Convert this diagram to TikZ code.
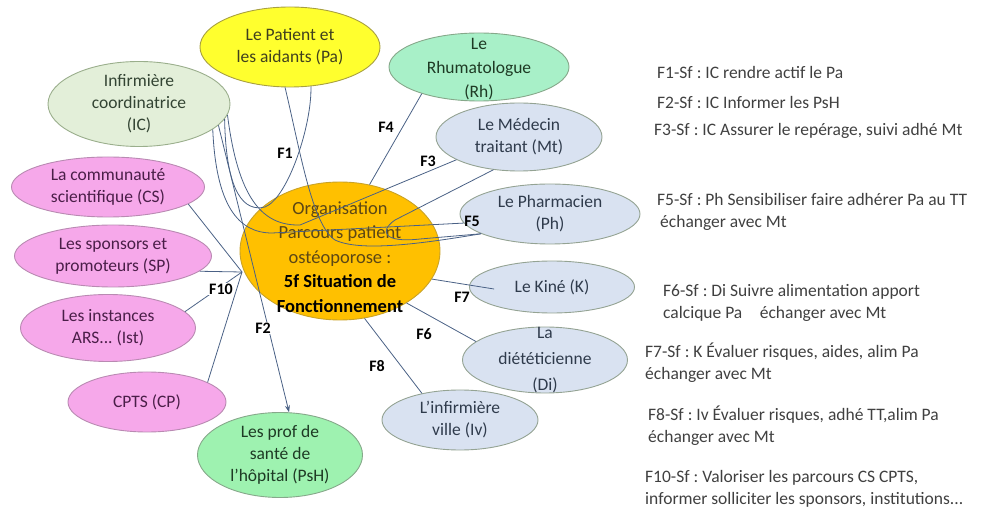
\documentclass[tikz,border=0pt]{standalone}
\usepackage{fontspec}
\setmainfont{Carlito}
\usepackage{xcolor}
\usepackage{tikz}
\usetikzlibrary{arrows.meta,shapes.geometric}
\frenchspacing

\definecolor{lnk}{HTML}{4A6185}
\definecolor{paF}{HTML}{FFFF2E}\definecolor{paD}{HTML}{A8A040}\definecolor{paT}{HTML}{40401E}
\definecolor{icF}{HTML}{E3EFD9}\definecolor{icD}{HTML}{9AAE8C}\definecolor{icT}{HTML}{334433}
\definecolor{pkF}{HTML}{F6A8EA}\definecolor{pkD}{HTML}{B98AB2}\definecolor{pkT}{HTML}{4A1E48}
\definecolor{grF}{HTML}{9EF2B0}\definecolor{rhF}{HTML}{A8F0C8}\definecolor{grD}{HTML}{86A88A}\definecolor{grT}{HTML}{1E3A24}
\definecolor{blF}{HTML}{D9E2F1}\definecolor{blD}{HTML}{94A393}\definecolor{blT}{HTML}{2F3B4C}
\definecolor{orF}{HTML}{FFC000}\definecolor{orD}{HTML}{C9A227}\definecolor{orT}{HTML}{5C4715}

\begin{document}
\begin{tikzpicture}[
  x=1pt, y=-1pt, >={Stealth[length=7pt,width=5pt]},
  bub/.style={ellipse, line width=0.9pt, inner sep=0pt},
  yel/.style={bub, fill=paF, draw=paD},
  sage/.style={bub, fill=icF, draw=icD},
  pink/.style={bub, fill=pkF, draw=pkD},
  mint/.style={bub, fill=grF, draw=grD},
  blue/.style={bub, fill=blF, draw=blD},
  txt/.style={align=center, font=\fontsize{17.5}{22}\selectfont},
  lnk/.style={draw=lnk, line width=0.8pt},
  flab/.style={font=\bfseries\fontsize{16}{18}\selectfont, inner sep=1pt},
  note/.style={anchor=west, align=left, text=black!75, font=\fontsize{17.5}{22}\selectfont, inner sep=0pt}
]
\useasboundingbox (0,0) rectangle (986,529);
% actors round the centre
\node[yel, minimum width=180pt, minimum height=80pt, label={[txt, text=paT]center:Le Patient et\\les aidants (Pa)}] (pa) at (290,47) {};
\node[sage, minimum width=182pt, minimum height=85pt, label={[txt, text=icT]center:Infirmière\\coordinatrice\\(IC)}] (ic) at (139,104) {};
\node[pink, minimum width=193pt, minimum height=60pt, label={[txt, text=pkT]center:La communauté\\scientifique (CS)}] (cs) at (108,187) {};
\node[pink, minimum width=197pt, minimum height=62pt, label={[txt, text=pkT]center:Les sponsors et\\promoteurs (SP)}] (sp) at (113,256) {};
\node[pink, minimum width=175pt, minimum height=67pt, label={[txt, text=pkT]center:Les instances\\ARS... (Ist)}] (ist) at (108,328) {};
\node[pink, minimum width=158pt, minimum height=60pt, label={[txt, text=pkT]center:CPTS (CP)}] (cp) at (147,402) {};
\node[mint, minimum width=165pt, minimum height=85pt, label={[txt, text=grT]center:Les prof de\\santé de\\l'hôpital (PsH)}] (psh) at (280,455) {};
\node[blue, minimum width=166pt, minimum height=68pt, label={[txt, text=blT]center:Le Médecin\\traitant (Mt)}] (mt) at (519,137) {};
\node[mint, fill=rhF, minimum width=180pt, minimum height=68pt, label={[txt, text=grT, yshift=-2pt, font=\fontsize{17.5}{24}\selectfont]center:Le\\Rhumatologue\\(Rh)}] (rh) at (479,67) {};
\node[blue, minimum width=180pt, minimum height=60pt, label={[txt, text=blT]center:Le Pharmacien\\(Ph)}] (ph) at (550,214) {};
\node[blue, minimum width=165pt, minimum height=52pt, label={[txt, text=blT]center:Le Kiné (K)}] (k) at (552,287) {};
\node[blue, minimum width=156pt, minimum height=60pt, label={[txt, text=blT]center:L'infirmière\\ville (Iv)}] (iv) at (460,420) {};
\node[blue, minimum width=165pt, minimum height=66pt, label={[txt, text=blT, font=\fontsize{17.5}{26}\selectfont]center:La\\diététicienne\\(Di)}] (di) at (545,360) {};
% centre
\node[bub, fill=orF, draw=orD, minimum width=200pt, minimum height=138pt,
      label={[align=center, yshift=-6pt, font=\fontsize{18.5}{24.5}\selectfont]center:{\color{orT}Organisation}\\{\color{orT}Parcours patient}\\{\color{orT}ostéoporose :}\\\textbf{5f Situation de}\\\textbf{Fonctionnement}}] (ctr) at (340,251) {};
\coordinate (j10) at (242,272);
% connectors
\draw[lnk] (ic.-10) .. controls (226,195) and (245,212) .. (265,207) .. controls (288,198) and (312,125) .. (pa.-62);
\draw[lnk, ->] (ic.-15) -- (psh.78);
\draw[lnk] (ic.-7) .. controls (238,198) and (262,226) .. (300,225) -- (mt.200);
\draw[lnk] (ic.-19) .. controls (216,205) and (238,233) .. (272,233) -- (ph.186);
\draw[lnk] (pa.-97) .. controls (300,150) and (312,225) .. (335,240) .. controls (360,252) and (420,244) .. (ph.196);
\draw[lnk] (mt.232) -- (395,220) .. controls (378,232) and (385,243) .. (420,239) -- (ph.196);
\draw[lnk] (ctr.66) -- (rh.205);
\draw[lnk] (ctr.-17) -- ([xshift=25pt,yshift=-2pt]k.west);
\draw[lnk] (ctr.-38) -- (di.165);
\draw[lnk] (ctr.-70) -- (iv.145);
\draw[lnk] (cs.-12) -- (j10);
\draw[lnk] (sp.-10) -- (j10);
\draw[lnk] (ist.12) -- (j10);
\draw[lnk] (cp.18) -- (j10);
% flow labels
\node[flab] (lf1) at (285,153) {F1};
\node[flab, fill=white] (lf2) at (263,328) {F2};
\node[flab] (lf3) at (428,161) {F3};
\node[flab] (lf4) at (386,127) {F4};
\node[flab] (lf5) at (472,221) {F5};
\node[flab] (lf6) at (424,334) {F6};
\node[flab] (lf7) at (462,297) {F7};
\node[flab] (lf8) at (377,366) {F8};
\node[flab, fill=white] (lf10) at (221,289) {F10};
% legend
\node[note] (n1) at (657,72) {F1-Sf : IC rendre actif le Pa};
\node[note] (n2) at (657,102) {F2-Sf : IC Informer les PsH};
\node[note] (n3) at (654,131) {F3-Sf : IC Assurer le repérage, suivi adhé Mt};
\node[note] (n5) at (657,211.5) {F5-Sf : Ph Sensibiliser faire adhérer Pa au TT\\\hspace{3pt}échanger avec Mt};
\node[note] (n6) at (663,302.5) {F6-Sf : Di Suivre alimentation apport\\calcique Pa\quad échanger avec Mt};
\node[note] (n7) at (645,363) {F7-Sf : K Évaluer risques, aides, alim Pa\\échanger avec Mt};
\node[note] (n8) at (648,426) {F8-Sf : Iv Évaluer risques, adhé TT,alim Pa\\échanger avec Mt};
\node[note] (n10) at (645,489) {F10-Sf : Valoriser les parcours CS CPTS,\\informer solliciter les sponsors, institutions...};
\end{tikzpicture}
\end{document}
